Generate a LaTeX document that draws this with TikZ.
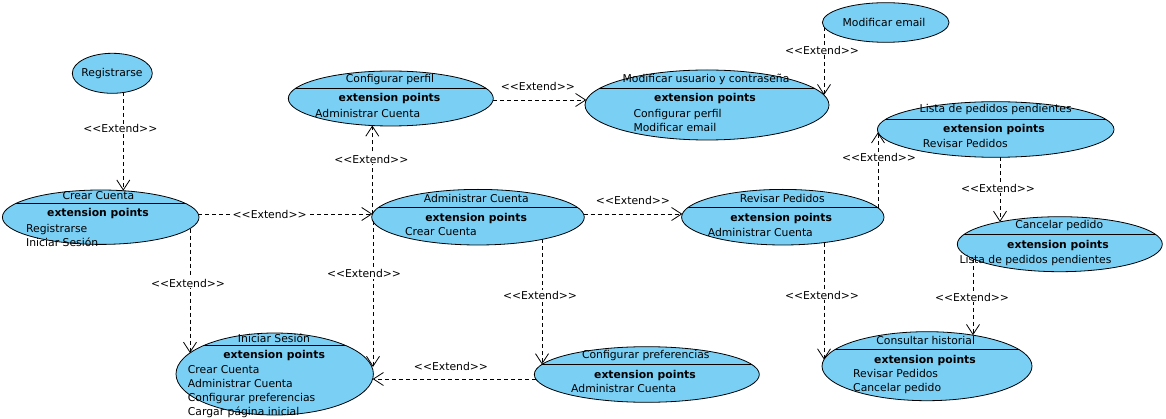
\documentclass[tikz,border=0pt]{standalone}
\usepackage{fontspec}
\setmainfont{DejaVu Sans}[Ligatures=TeXOff]
\usepackage{xcolor}
\usetikzlibrary{shapes,arrows.meta,positioning}

\definecolor{casoazul}{RGB}{122,207,245}

\tikzset{
  caso/.style={ellipse, draw, fill=casoazul, inner sep=0pt, line width=0.8pt},
  linea/.style={path picture={\draw[line width=0.8pt] ([yshift=-#1]path picture bounding box.north west) -- ([yshift=-#1]path picture bounding box.north east);}},
  txt/.style={inner sep=0pt, font=\fontsize{10.8}{14}\selectfont},
  puntos/.style={inner sep=0pt, font=\fontsize{10.8}{14}\selectfont\bfseries},
  lista/.style={txt, anchor=north west, align=left},
  extiende/.style={dash pattern=on 4pt off 3pt, line width=0.8pt, -{Straight Barb[length=10pt,width=13pt]}},
  etiq/.style={txt, fill=white, inner sep=1pt}
}

\begin{document}
\begin{tikzpicture}[x=1pt, y=-1pt]
\clip (0,0) rectangle (1166,419);

\node[caso, minimum width=80pt, minimum height=40pt] (reg) at (112.3,73.3) {};
\node[txt] (regT) at (112,73.3) {Registrarse};

\node[caso, minimum width=196.6pt, minimum height=54.4pt, linea=13.3pt] (crear) at (100.7,217.2) {};
\node[txt] (crearT) at (98.5,196) {Crear Cuenta};
\node[puntos] (crearP) at (98,214) {extension points};
\node[lista] (crearL) at (26,224) {Registrarse\\Iniciar Sesión};

\node[caso, minimum width=205pt, minimum height=55pt, linea=17.3pt] (perfil) at (390.8,98.5) {};
\node[txt] (perfilT) at (390,79.3) {Configurar perfil};
\node[puntos] (perfilP) at (389.5,99) {extension points};
\node[lista] (perfilL) at (315,109) {Administrar Cuenta};

\node[caso, minimum width=244pt, minimum height=70pt, linea=18.3pt] (modusr) at (707,105) {};
\node[txt] (modusrT) at (706,79.3) {Modificar usuario y contraseña};
\node[puntos] (modusrP) at (705,99) {extension points};
\node[lista] (modusrL) at (633.3,109) {Configurar perfil\\Modificar email};

\node[caso, minimum width=126.6pt, minimum height=39.6pt] (email) at (885.7,22.5) {};
\node[txt] (emailT) at (884,22) {Modificar email};

\node[caso, minimum width=236.6pt, minimum height=55.6pt, linea=17.6pt] (lista) at (995.7,129.5) {};
\node[txt] (listaT) at (995.7,110) {Lista de pedidos pendientes};
\node[puntos] (listaP) at (994,130) {extension points};
\node[lista] (listaL) at (922.7,139.5) {Revisar Pedidos};

\node[caso, minimum width=212.6pt, minimum height=55.6pt, linea=17.9pt] (admin) at (478,217.2) {};
\node[txt] (adminT) at (476.3,198.3) {Administrar Cuenta};
\node[puntos] (adminP) at (476.2,218.3) {extension points};
\node[lista] (adminL) at (405,227.2) {Crear Cuenta};

\node[caso, minimum width=202.4pt, minimum height=55.6pt, linea=17.9pt] (revisar) at (782.8,217.2) {};
\node[txt] (revisarT) at (782.2,198.3) {Revisar Pedidos};
\node[puntos] (revisarP) at (781.2,218.3) {extension points};
\node[lista] (revisarL) at (707.7,227.8) {Administrar Cuenta};

\node[caso, minimum width=205pt, minimum height=55pt, linea=17.6pt] (cancelar) at (1059.8,244.2) {};
\node[txt] (cancelarT) at (1059.2,225.3) {Cancelar pedido};
\node[puntos] (cancelarP) at (1058,245.3) {extension points};
\node[lista] (cancelarL) at (959.3,254.8) {Lista de pedidos pendientes};

\node[caso, minimum width=197.4pt, minimum height=82pt, linea=12.7pt] (iniciar) at (274.7,374) {};
\node[txt] (iniciarT) at (274,338.3) {Iniciar Sesión};
\node[puntos] (iniciarP) at (274.2,356) {extension points};
\node[lista] (iniciarL) at (187.7,365.5) {Crear Cuenta\\Administrar Cuenta\\Configurar preferencias\\Cargar página inicial};

\node[caso, minimum width=225pt, minimum height=55.6pt, linea=17.6pt] (prefs) at (646.8,374.5) {};
\node[txt] (prefsT) at (645.8,355.3) {Configurar preferencias};
\node[puntos] (prefsP) at (645,375.3) {extension points};
\node[lista] (prefsL) at (571,384.5) {Administrar Cuenta};

\node[caso, minimum width=210pt, minimum height=69pt, linea=17.6pt] (hist) at (927,366.2) {};
\node[txt] (histT) at (925.7,340.7) {Consultar historial};
\node[puntos] (histP) at (925,360.7) {extension points};
\node[lista] (histL) at (853,369.5) {Revisar Pedidos\\Cancelar pedido};

\draw[extiende] ([shift={(11,19.2)}]reg.center) -- node[etiq, pos=0.37, xshift=-3pt] {<<Extend>>} ([shift={(22.6,-26.5)}]crear.center);
\draw[extiende] ([shift={(97.6,-3.2)}]crear.center) -- node[etiq, pos=0.41] {<<Extend>>} ([shift={(-105.6,-3.2)}]admin.center);
\draw[extiende] ([shift={(89.3,11.4)}]crear.center) -- node[etiq, pos=0.44, xshift=-2pt] {<<Extend>>} ([shift={(-84.7,-21.1)}]iniciar.center);
\draw[extiende] ([shift={(-105.7,-2.9)}]admin.center) -- node[etiq, pos=0.62, xshift=-1pt] {<<Extend>>} ([shift={(-18.5,27)}]perfil.center);
\draw[extiende] ([shift={(-105,4.3)}]admin.center) -- node[etiq, pos=0.36, xshift=-9pt] {<<Extend>>} ([shift={(98.3,-7)}]iniciar.center);
\draw[extiende] ([shift={(102.35,1.5)}]perfil.center) -- node[etiq, pos=0.48, above=7.5pt] {<<Extend>>} ([shift={(-120.7,-5)}]modusr.center);
\draw[extiende] ([shift={(-61.7,4.4)}]email.center) -- node[etiq, pos=0.34, xshift=-2pt] {<<Extend>>} ([shift={(117,-9.9)}]modusr.center);
\draw[extiende] ([shift={(105.6,-3.2)}]admin.center) -- node[etiq, pos=0.5, above=7.5pt] {<<Extend>>} ([shift={(-100.5,-3.2)}]revisar.center);
\draw[extiende] ([shift={(95.2,-9.4)}]revisar.center) -- node[etiq, pos=0.67, xshift=1pt] {<<Extend>>} ([shift={(-117.7,2.8)}]lista.center);
\draw[extiende] ([shift={(4.3,27.8)}]lista.center) -- node[etiq, pos=0.475, xshift=-2pt] {<<Extend>>} ([shift={(-59.8,-22.3)}]cancelar.center);
\draw[extiende] ([shift={(-86.8,14.6)}]cancelar.center) -- node[etiq, pos=0.5, xshift=-1pt] {<<Extend>>} ([shift={(46,-31)}]hist.center);
\draw[extiende] ([shift={(41.2,25.4)}]revisar.center) -- node[etiq, pos=0.45, xshift=-2pt] {<<Extend>>} ([shift={(-103,-6.7)}]hist.center);
\draw[extiende] ([shift={(64,22.2)}]admin.center) -- node[etiq, pos=0.45, xshift=-2pt] {<<Extend>>} ([shift={(-104.8,-10.1)}]prefs.center);
\draw[extiende] ([shift={(-111,4.5)}]prefs.center) -- node[etiq, pos=0.52, above=6.5pt] {<<Extend>>} ([shift={(98,5)}]iniciar.center);
\end{tikzpicture}
\end{document}
